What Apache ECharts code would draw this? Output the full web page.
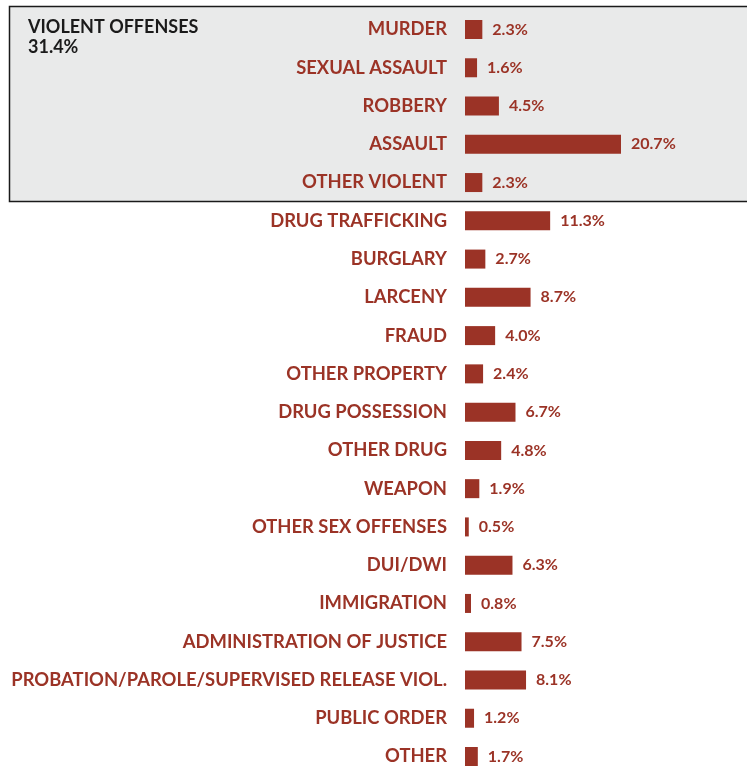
<!DOCTYPE html>
<html><head><meta charset="utf-8">
<script src="https://cdn.jsdelivr.net/npm/echarts@6/dist/echarts.min.js"></script>
<style>html,body{margin:0;padding:0;background:#fff}#c{width:747px;height:767px}</style>
</head><body><div id="c"></div>
<script>
const categories = ["MURDER","SEXUAL ASSAULT","ROBBERY","ASSAULT","OTHER VIOLENT","DRUG TRAFFICKING","BURGLARY","LARCENY","FRAUD","OTHER PROPERTY","DRUG POSSESSION","OTHER DRUG","WEAPON","OTHER SEX OFFENSES","DUI/DWI","IMMIGRATION","ADMINISTRATION OF JUSTICE","PROBATION/PAROLE/SUPERVISED RELEASE VIOL.","PUBLIC ORDER","OTHER"];
const values = [2.3,1.6,4.5,20.7,2.3,11.3,2.7,8.7,4.0,2.4,6.7,4.8,1.9,0.5,6.3,0.8,7.5,8.1,1.2,1.7];
const groupTitle = ["VIOLENT OFFENSES"];
const groupValue = [31.4];
const RED = '#9b3326';
const FONT = 'Lato, "Open Sans", sans-serif';
const chart = echarts.init(document.getElementById('c'), null, {renderer:'canvas'});
chart.setOption({
  animation:false,
  graphic:[
    {type:'rect', z:-10, silent:true, shape:{x:9.5,y:6.5,width:760,height:195}, style:{fill:'#e9eaea',stroke:'#1a1a1a',lineWidth:1.5}},
    {type:'text', left:28, top:18, style:{text:groupTitle[0], font:'bold 18px '+FONT, fill:'#1a1a1a'}},
    {type:'text', left:28, top:38, style:{text:groupValue[0].toFixed(1)+'%', font:'bold 18px '+FONT, fill:'#1a1a1a'}}
  ],
  grid:{left:465, top:29.5, width:282, height:727, containLabel:false},
  xAxis:{type:'value', min:0, max:37.42, show:false},
  yAxis:{type:'category', inverse:true, boundaryGap:false, data:categories,
    axisLine:{show:false}, axisTick:{show:false}, splitLine:{show:false},
    axisLabel:{margin:18, color:RED, fontWeight:'bold', fontSize:18.4, fontFamily:FONT}},
  series:[{type:'bar', data:values, barWidth:19, itemStyle:{color:RED},
    label:{show:true, position:'right', distance:10, color:RED, fontWeight:'bold', fontSize:16, fontFamily:FONT,
      formatter:p=>p.value.toFixed(1)+'%'}}]
});
</script></body></html>
